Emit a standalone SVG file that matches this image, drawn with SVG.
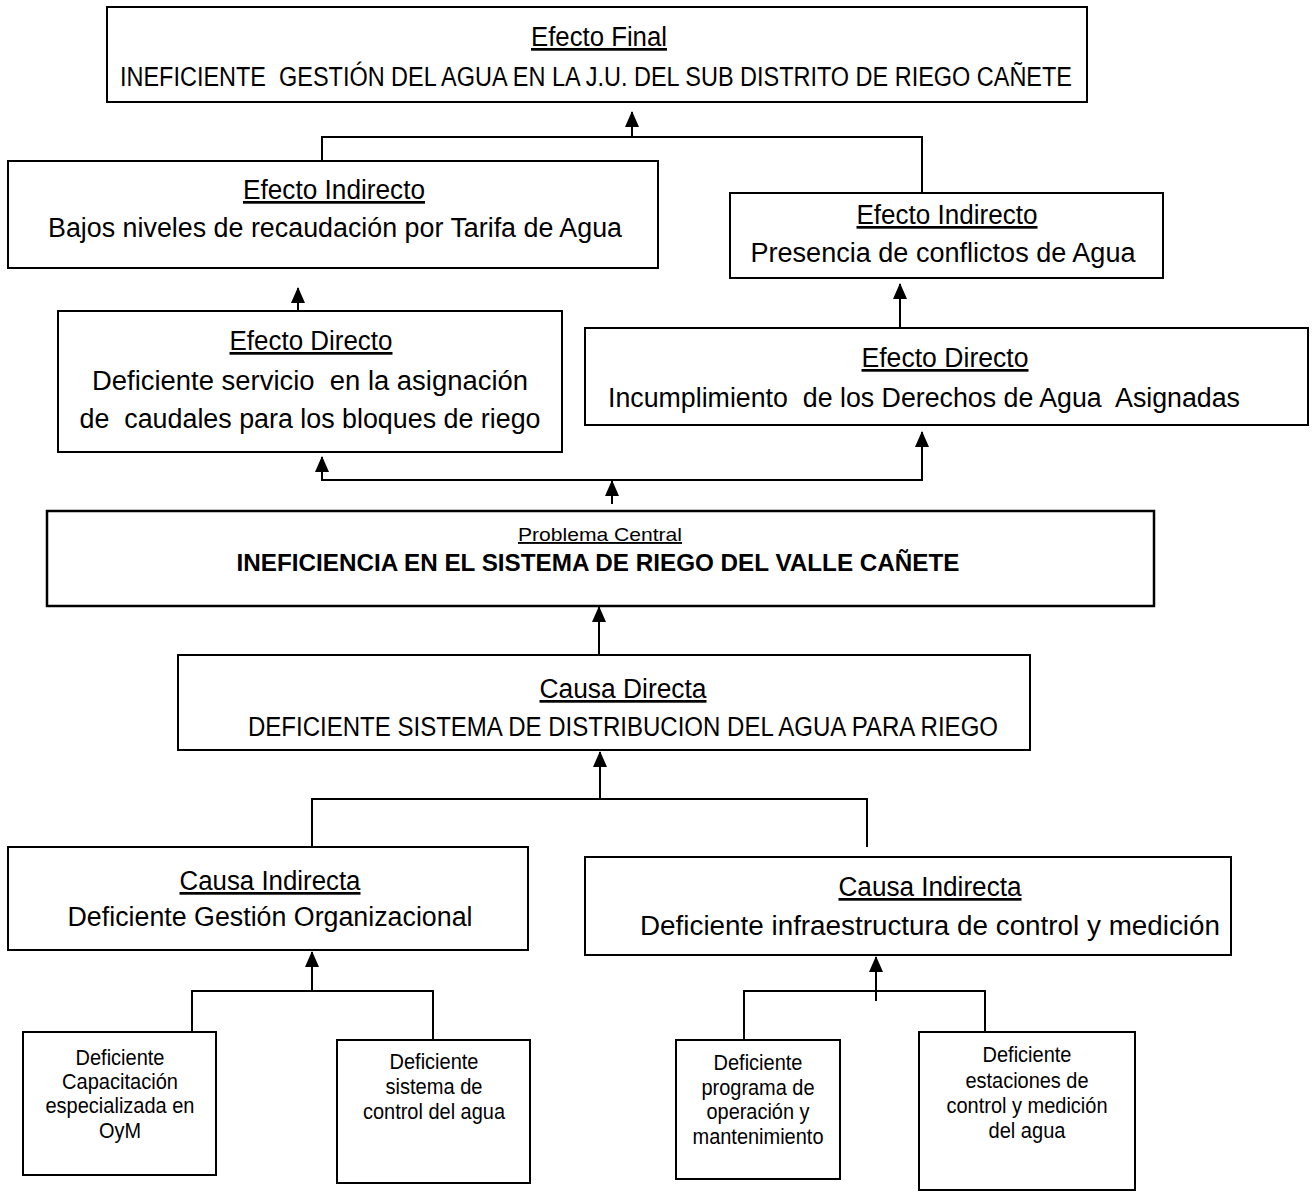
<svg xmlns="http://www.w3.org/2000/svg" width="1313" height="1197" viewBox="0 0 1313 1197">
<style>
  .box { fill: #fff; stroke: #000; stroke-width: 2; }
  .t { font-family: "Liberation Sans", Arial, sans-serif; fill: #000; text-anchor: middle; white-space: pre; }
  .h { font-size: 27px; text-decoration: underline; }
  .l { font-size: 27px; }
  .s { font-size: 22px; }
  .conn { fill: none; stroke: #000; stroke-width: 2; }
</style>
<defs>
  <marker id="arr" markerUnits="userSpaceOnUse" markerWidth="16" markerHeight="14" refX="15" refY="7" orient="auto">
    <path d="M0,0 L16,7 L0,14 Z" fill="#000"/>
  </marker>
</defs>
<rect width="1313" height="1197" fill="#fff"/>

<g id="connectors">
  <path class="conn" d="M322,161 V137 H922 V193"/>
  <path class="conn" d="M632,137 V112" marker-end="url(#arr)"/>
  <path class="conn" d="M298,311 V288" marker-end="url(#arr)"/>
  <path class="conn" d="M900,328 V284" marker-end="url(#arr)"/>
  <path class="conn" d="M322,457 V480 H922 V432"/>
  <path class="conn" d="M322,470 V457" marker-end="url(#arr)"/>
  <path class="conn" d="M922,445 V432" marker-end="url(#arr)"/>
  <path class="conn" d="M612,504 V481" marker-end="url(#arr)"/>
  <path class="conn" d="M599,655 V607" marker-end="url(#arr)"/>
  <path class="conn" d="M312,847 V799 H867 V847"/>
  <path class="conn" d="M600,799 V752" marker-end="url(#arr)"/>
  <path class="conn" d="M192,1040 V991 H433 V1040"/>
  <path class="conn" d="M312,991 V952" marker-end="url(#arr)"/>
  <path class="conn" d="M744,1040 V991 H985 V1040"/>
  <path class="conn" d="M876,1001 V957" marker-end="url(#arr)"/>
</g>

<g id="efecto-final">
  <rect class="box" x="107" y="7" width="980" height="95"/>
  <text class="t h" x="599" y="46" textLength="136" lengthAdjust="spacingAndGlyphs">Efecto Final</text>
  <text class="t l" x="596" y="86" textLength="952" lengthAdjust="spacingAndGlyphs">INEFICIENTE  GESTIÓN DEL AGUA EN LA J.U. DEL SUB DISTRITO DE RIEGO CAÑETE</text>
</g>

<g id="efecto-indirecto-1">
  <rect class="box" x="8" y="161" width="650" height="107"/>
  <text class="t h" x="334" y="199" textLength="182" lengthAdjust="spacingAndGlyphs">Efecto Indirecto</text>
  <text class="t l" x="335" y="237" textLength="574" lengthAdjust="spacingAndGlyphs">Bajos niveles de recaudación por Tarifa de Agua</text>
</g>

<g id="efecto-indirecto-2">
  <rect class="box" x="730" y="193" width="433" height="85"/>
  <text class="t h" x="947" y="224" textLength="181" lengthAdjust="spacingAndGlyphs">Efecto Indirecto</text>
  <text class="t l" x="943" y="262" textLength="385" lengthAdjust="spacingAndGlyphs">Presencia de conflictos de Agua</text>
</g>

<g id="efecto-directo-1">
  <rect class="box" x="58" y="311" width="504" height="141"/>
  <text class="t h" x="311" y="350" textLength="163" lengthAdjust="spacingAndGlyphs">Efecto Directo</text>
  <text class="t l" x="310" y="390" textLength="436" lengthAdjust="spacingAndGlyphs">Deficiente servicio  en la asignación</text>
  <text class="t l" x="310" y="428" textLength="461" lengthAdjust="spacingAndGlyphs">de  caudales para los bloques de riego</text>
</g>

<g id="efecto-directo-2">
  <rect class="box" x="585" y="328" width="723" height="97"/>
  <text class="t h" x="945" y="367" textLength="167" lengthAdjust="spacingAndGlyphs">Efecto Directo</text>
  <text class="t l" x="924" y="407" textLength="632" lengthAdjust="spacingAndGlyphs">Incumplimiento  de los Derechos de Agua  Asignadas</text>
</g>

<g id="problema-central">
  <rect class="box" x="47" y="511" width="1107" height="95" style="stroke-width:2.5"/>
  <text class="t" x="600" y="541" textLength="164" lengthAdjust="spacingAndGlyphs" style="font-size:19px;text-decoration:underline">Problema Central</text>
  <text class="t" x="598" y="571" textLength="723" lengthAdjust="spacingAndGlyphs" style="font-size:23px;font-weight:bold">INEFICIENCIA EN EL SISTEMA DE RIEGO DEL VALLE CAÑETE</text>
</g>

<g id="causa-directa">
  <rect class="box" x="178" y="655" width="852" height="95"/>
  <text class="t h" x="623" y="698" textLength="167" lengthAdjust="spacingAndGlyphs">Causa Directa</text>
  <text class="t l" x="623" y="736" textLength="750" lengthAdjust="spacingAndGlyphs">DEFICIENTE SISTEMA DE DISTRIBUCION DEL AGUA PARA RIEGO</text>
</g>

<g id="causa-indirecta-1">
  <rect class="box" x="8" y="847" width="520" height="103"/>
  <text class="t h" x="270" y="890" textLength="181" lengthAdjust="spacingAndGlyphs">Causa Indirecta</text>
  <text class="t l" x="270" y="926" textLength="405" lengthAdjust="spacingAndGlyphs">Deficiente Gestión Organizacional</text>
</g>

<g id="causa-indirecta-2">
  <rect class="box" x="585" y="857" width="646" height="98"/>
  <text class="t h" x="930" y="896" textLength="183" lengthAdjust="spacingAndGlyphs">Causa Indirecta</text>
  <text class="t l" x="930" y="935" textLength="580" lengthAdjust="spacingAndGlyphs">Deficiente infraestructura de control y medición</text>
</g>

<g id="capacitacion">
  <rect class="box" x="23" y="1032" width="193" height="143"/>
  <text class="t s" x="120" y="1065" textLength="89" lengthAdjust="spacingAndGlyphs">Deficiente</text>
  <text class="t s" x="120" y="1089" textLength="116" lengthAdjust="spacingAndGlyphs">Capacitación</text>
  <text class="t s" x="120" y="1113" textLength="149" lengthAdjust="spacingAndGlyphs">especializada en</text>
  <text class="t s" x="120" y="1138" textLength="42" lengthAdjust="spacingAndGlyphs">OyM</text>
</g>

<g id="sistema-control">
  <rect class="box" x="337" y="1040" width="193" height="143"/>
  <text class="t s" x="434" y="1069" textLength="89" lengthAdjust="spacingAndGlyphs">Deficiente</text>
  <text class="t s" x="434" y="1094" textLength="97" lengthAdjust="spacingAndGlyphs">sistema de</text>
  <text class="t s" x="434" y="1119" textLength="142" lengthAdjust="spacingAndGlyphs">control del agua</text>
</g>

<g id="programa-oym">
  <rect class="box" x="676" y="1040" width="164" height="139"/>
  <text class="t s" x="758" y="1070" textLength="89" lengthAdjust="spacingAndGlyphs">Deficiente</text>
  <text class="t s" x="758" y="1095" textLength="113" lengthAdjust="spacingAndGlyphs">programa de</text>
  <text class="t s" x="758" y="1119" textLength="103" lengthAdjust="spacingAndGlyphs">operación y</text>
  <text class="t s" x="758" y="1144" textLength="131" lengthAdjust="spacingAndGlyphs">mantenimiento</text>
</g>

<g id="estaciones">
  <rect class="box" x="919" y="1032" width="216" height="158"/>
  <text class="t s" x="1027" y="1062" textLength="89" lengthAdjust="spacingAndGlyphs">Deficiente</text>
  <text class="t s" x="1027" y="1088" textLength="123" lengthAdjust="spacingAndGlyphs">estaciones de</text>
  <text class="t s" x="1027" y="1113" textLength="161" lengthAdjust="spacingAndGlyphs">control y medición</text>
  <text class="t s" x="1027" y="1138" textLength="77" lengthAdjust="spacingAndGlyphs">del agua</text>
</g>
</svg>
